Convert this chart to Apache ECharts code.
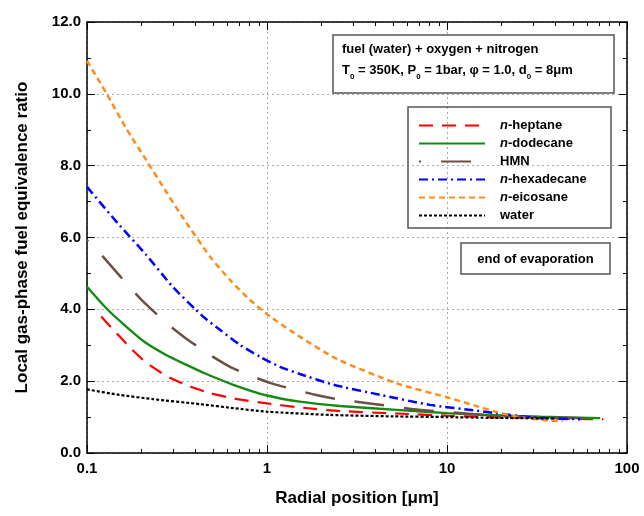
<!DOCTYPE html>
<html><head><meta charset="utf-8">
<script src="https://cdn.jsdelivr.net/npm/echarts@6/dist/echarts.min.js"></script>
<style>html,body{margin:0;padding:0;background:#fff}#c{width:644px;height:516px}</style>
</head><body><div id="c"></div>
<script>
const FONT = 'Liberation Sans, Arial, Helvetica, sans-serif';
const xTickLabels = ['0.1', '1', '10', '100'];
const yTickLabels = ['0.0', '2.0', '4.0', '6.0', '8.0', '10.0', '12.0'];
const xMinorTicks = [0.2,0.3,0.4,0.5,0.6,0.7,0.8,0.9,2,3,4,5,6,7,8,9,20,30,40,50,60,70,80,90];
const seriesNames = ['n-heptane', 'n-dodecane', 'HMN', 'n-hexadecane', 'n-eicosane', 'water'];

const heptaneR = [0.12, 0.136, 0.158, 0.176, 0.213, 0.275, 0.37, 0.48, 0.65, 1.0, 1.52, 2.54, 5.25, 10, 16.6, 30, 50, 74];
const heptaneY = [3.80, 3.50, 3.15, 2.90, 2.52, 2.15, 1.86, 1.67, 1.52, 1.38, 1.27, 1.17, 1.10, 1.04, 1.00, 0.97, 0.95, 0.94];
const dodecaneR = [0.1, 0.128, 0.165, 0.213, 0.275, 0.355, 0.45, 0.65, 1.0, 1.52, 2.54, 5.25, 10, 16.6, 33, 71];
const dodecaneY = [4.63, 4.03, 3.52, 3.06, 2.73, 2.46, 2.22, 1.90, 1.60, 1.43, 1.31, 1.20, 1.11, 1.06, 1.01, 0.97];
const hmnR = [0.1, 0.125, 0.165, 0.204, 0.281, 0.355, 0.425, 0.482, 0.623, 0.822, 1.06, 1.46, 1.85, 2.44, 3.73, 6.5, 11.3, 18, 33, 71];
const hmnY = [5.93, 5.42, 4.73, 4.23, 3.59, 3.19, 2.92, 2.73, 2.40, 2.14, 1.94, 1.75, 1.62, 1.50, 1.38, 1.22, 1.12, 1.04, 0.99, 0.96];
const hexadecaneR = [0.1, 0.148, 0.213, 0.299, 0.404, 0.453, 0.548, 0.708, 0.914, 1.18, 1.52, 2.34, 4.25, 8.05, 14, 18, 31.5, 55];
const hexadecaneY = [7.41, 6.40, 5.52, 4.63, 3.98, 3.75, 3.43, 3.01, 2.68, 2.40, 2.20, 1.90, 1.62, 1.34, 1.19, 1.12, 0.98, 0.94];
const eicosaneR = [0.1, 0.128, 0.165, 0.213, 0.275, 0.333, 0.482, 0.623, 0.805, 1.04, 1.52, 2.44, 5.25, 10, 14.3, 18.9, 24.4, 31.5, 37.3, 44];
const eicosaneY = [10.92, 10.02, 9.04, 8.16, 7.28, 6.63, 5.47, 4.82, 4.26, 3.80, 3.24, 2.62, 1.94, 1.55, 1.32, 1.14, 1.01, 0.94, 0.90, 0.89];
const waterR = [0.1, 0.151, 0.232, 0.425, 0.65, 1.0, 2.24, 5, 10, 16.6, 40];
const waterY = [1.77, 1.62, 1.50, 1.36, 1.25, 1.15, 1.06, 1.02, 1.00, 0.98, 0.96];

function pairs(r, y) { return r.map((v, i) => [v, y[i]]); }

const styles = [
  { color: '#ff0000', width: 2.2, type: [14, 9], offset: 0 },
  { color: '#138a13', width: 2.4, type: 'solid', offset: 0 },
  { color: '#6e4f45', width: 2.5, type: [30, 20], offset: 28 },
  { color: '#0000ff', width: 2.5, type: [9, 4, 2, 4], offset: 0 },
  { color: '#ff8c1a', width: 2.5, type: [6, 4], offset: 0 },
  { color: '#000000', width: 2.2, type: [3, 2], offset: 0 }
];
const datas = [pairs(heptaneR, heptaneY), pairs(dodecaneR, dodecaneY), pairs(hmnR, hmnY),
  pairs(hexadecaneR, hexadecaneY), pairs(eicosaneR, eicosaneY), pairs(waterR, waterY)];

const series = seriesNames.map((n, i) => ({
  name: n, type: 'line', xAxisIndex: 0, yAxisIndex: 0, symbol: 'none', showSymbol: false,
  smooth: 0.2,
  lineStyle: { color: styles[i].color, width: styles[i].width, type: styles[i].type, dashOffset: styles[i].offset },
  itemStyle: { color: styles[i].color },
  data: datas[i], z: 3
}));

const chart = echarts.init(document.getElementById('c'), null, { renderer: 'canvas' });
const gridPos = { left: 87, right: 17, top: 22, bottom: 63 };
chart.setOption({
  animation: false,
  backgroundColor: '#fff',
  textStyle: { fontFamily: FONT },
  grid: gridPos,
  xAxis: [
    { type: 'log', logBase: 10, min: 0.1, max: 100, position: 'bottom',
      name: 'Radial position [\u03bcm]', nameLocation: 'middle', nameGap: 37,
      nameTextStyle: { fontFamily: FONT, fontWeight: 'bold', fontSize: 17, color: '#000' },
      axisLine: { show: true, lineStyle: { color: '#000', width: 1.5 } },
      axisTick: { show: true, inside: true, length: 8, lineStyle: { color: '#000' } },
      axisLabel: { show: true, fontFamily: FONT, fontWeight: 'bold', fontSize: 15, color: '#000', margin: 8,
        formatter: v => { const s = xTickLabels.find(t => Math.abs(parseFloat(t) - v) < 1e-6 * Math.max(1, v)); return s || ''; } },
      splitLine: { show: true, lineStyle: { color: '#aaa', type: [2, 3], width: 1 } },
      minorTick: { show: false }
    },
    { type: 'log', logBase: 10, min: 0.1, max: 100, position: 'bottom',
      axisLine: { show: false }, axisLabel: { show: false }, splitLine: { show: false },
      axisTick: { show: true, inside: true, length: 4, customValues: xMinorTicks, lineStyle: { color: '#000' } }
    },
    { type: 'log', logBase: 10, min: 0.1, max: 100, position: 'top',
      axisLine: { show: true, lineStyle: { color: '#000', width: 1.5 } }, axisLabel: { show: false }, splitLine: { show: false },
      axisTick: { show: true, inside: true, length: 8, lineStyle: { color: '#000' } }
    },
    { type: 'log', logBase: 10, min: 0.1, max: 100, position: 'top',
      axisLine: { show: false }, axisLabel: { show: false }, splitLine: { show: false },
      axisTick: { show: true, inside: true, length: 4, customValues: xMinorTicks, lineStyle: { color: '#000' } }
    }
  ],
  yAxis: [
    { type: 'value', min: 0, max: 12, interval: 2, position: 'left',
      name: 'Local gas-phase fuel equivalence ratio', nameLocation: 'middle', nameGap: 56,
      nameTextStyle: { fontFamily: FONT, fontWeight: 'bold', fontSize: 17, color: '#000' },
      axisLine: { show: true, lineStyle: { color: '#000', width: 1.5 } },
      axisTick: { show: true, inside: true, length: 8, lineStyle: { color: '#000' } },
      minorTick: { show: true, splitNumber: 2, length: 4, lineStyle: { color: '#000' } },
      axisLabel: { fontFamily: FONT, fontWeight: 'bold', fontSize: 15, color: '#000', margin: 6,
        formatter: v => yTickLabels[Math.round(v / 2)] },
      splitLine: { show: true, lineStyle: { color: '#aaa', type: [2, 3], width: 1 } }
    },
    { type: 'value', min: 0, max: 12, interval: 2, position: 'right',
      axisLine: { show: true, lineStyle: { color: '#000', width: 1.5 } },
      axisTick: { show: true, inside: true, length: 8, lineStyle: { color: '#000' } },
      minorTick: { show: true, splitNumber: 2, length: 4, lineStyle: { color: '#000' } },
      axisLabel: { show: false }, splitLine: { show: false }
    }
  ],
  legend: {
    left: 418, top: 119, orient: 'vertical', itemWidth: 66, itemHeight: 12, itemGap: 5.0,
    padding: 0, data: seriesNames,
    itemStyle: { opacity: 0, borderWidth: 0 },
    textStyle: { fontFamily: FONT, fontWeight: 'bold', fontSize: 13, color: '#000', padding: [0, 0, 0, 10],
      rich: { i: { fontFamily: FONT, fontWeight: 'bold', fontStyle: 'italic', fontSize: 13, color: '#000' },
              b: { fontFamily: FONT, fontWeight: 'bold', fontSize: 13, color: '#000' } } },
    formatter: n => n.startsWith('n-') ? '{i|n}{b|' + n.slice(1) + '}' : '{b|' + n + '}'
  },
  graphic: [
    { type: 'rect', shape: { x: 333, y: 35, width: 281, height: 58 }, style: { fill: '#fff', stroke: '#555', lineWidth: 1.5 }, z: 10 },
    { type: 'text', x: 342, y: 43, z: 11, style: { text: 'fuel (water) + oxygen + nitrogen', font: 'bold 13px ' + FONT, fill: '#000' } },
    { type: 'text', x: 342, y: 64, z: 11, style: {
      text: '{n|T}{s|0}{n| = 350K, P}{s|0}{n| = 1bar, \u03c6 = 1.0, d}{s|0}{n| = 8\u03bcm}',
      fill: '#000',
      rich: { n: { font: 'bold 13px ' + FONT, fill: '#000', lineHeight: 18, verticalAlign: 'top' },
              s: { font: 'bold 8px ' + FONT, fill: '#000', padding: [9, 0, 0, 0], lineHeight: 18, verticalAlign: 'top' } } } },
    { type: 'rect', shape: { x: 408, y: 107, width: 203, height: 121 }, style: { fill: 'none', stroke: '#555', lineWidth: 1.5 }, z: 10 },
    { type: 'rect', shape: { x: 461, y: 243, width: 149, height: 31 }, style: { fill: '#fff', stroke: '#555', lineWidth: 1.5 }, z: 10 },
    { type: 'text', x: 535.5, y: 259, z: 11, style: { text: 'end of evaporation', font: 'bold 13px ' + FONT, fill: '#000', align: 'center', verticalAlign: 'middle' } }
  ],
  series: series
});
</script></body></html>
